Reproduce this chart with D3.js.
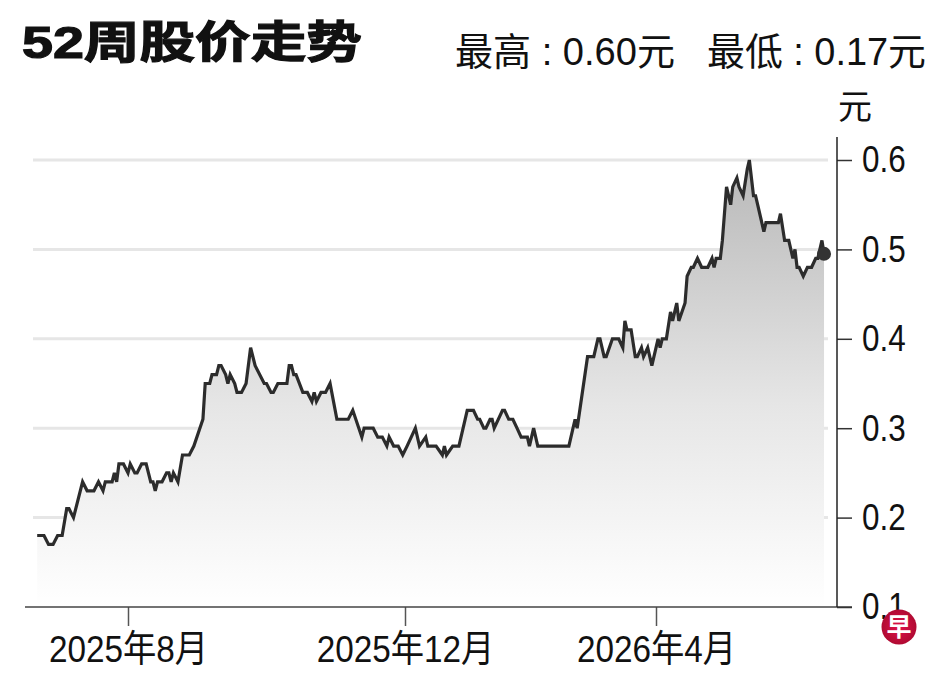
<!DOCTYPE html>
<html lang="zh">
<head>
<meta charset="UTF-8">
<title>52周股价走势</title>
<script src="https://d3js.org/d3.v7.min.js"></script>
<style>
    body { margin: 0; background: #fff; }
    text { font-family: "Liberation Sans", "Noto Sans CJK SC", sans-serif; fill: #111; }
</style>
</head>
<body>
<svg id="chart" width="948" height="676"></svg>
<script>
// price readings (date, closing price in 元)
const dates = [
    "2025-06-22", "2025-06-25", "2025-06-27", "2025-06-29", "2025-07-01", "2025-07-03", "2025-07-05", "2025-07-06",
    "2025-07-08", "2025-07-12", "2025-07-14", "2025-07-17", "2025-07-19", "2025-07-21", "2025-07-22", "2025-07-25",
    "2025-07-26", "2025-07-27", "2025-07-28", "2025-07-30", "2025-08-01", "2025-08-02", "2025-08-04", "2025-08-05",
    "2025-08-07", "2025-08-09", "2025-08-11", "2025-08-12", "2025-08-13", "2025-08-14", "2025-08-16", "2025-08-18",
    "2025-08-19", "2025-08-20", "2025-08-21", "2025-08-23", "2025-08-25", "2025-08-28", "2025-08-30", "2025-09-03",
    "2025-09-04", "2025-09-06", "2025-09-07", "2025-09-09", "2025-09-10", "2025-09-11", "2025-09-13", "2025-09-14",
    "2025-09-15", "2025-09-17", "2025-09-18", "2025-09-20", "2025-09-22", "2025-09-24", "2025-09-26", "2025-09-30",
    "2025-10-01", "2025-10-03", "2025-10-04", "2025-10-06", "2025-10-10", "2025-10-11", "2025-10-12", "2025-10-13",
    "2025-10-14", "2025-10-17", "2025-10-19", "2025-10-21", "2025-10-22", "2025-10-23", "2025-10-25", "2025-10-27",
    "2025-10-29", "2025-11-01", "2025-11-06", "2025-11-08", "2025-11-12", "2025-11-13", "2025-11-17", "2025-11-19",
    "2025-11-21", "2025-11-23", "2025-11-24", "2025-11-26", "2025-11-28", "2025-11-30", "2025-12-02", "2025-12-06",
    "2025-12-08", "2025-12-11", "2025-12-12", "2025-12-16", "2025-12-19", "2025-12-20", "2025-12-21", "2025-12-24",
    "2025-12-27", "2025-12-31", "2026-01-03", "2026-01-05", "2026-01-06", "2026-01-08", "2026-01-09", "2026-01-11",
    "2026-01-12", "2026-01-13", "2026-01-17", "2026-01-18", "2026-01-20", "2026-01-22", "2026-01-24", "2026-01-26",
    "2026-01-29", "2026-01-30", "2026-02-01", "2026-02-03", "2026-02-18", "2026-02-20", "2026-02-21", "2026-02-22",
    "2026-02-27", "2026-03-02", "2026-03-04", "2026-03-05", "2026-03-07", "2026-03-08", "2026-03-11", "2026-03-14",
    "2026-03-16", "2026-03-17", "2026-03-18", "2026-03-20", "2026-03-22", "2026-03-23", "2026-03-25", "2026-03-26",
    "2026-03-28", "2026-03-30", "2026-04-02", "2026-04-03", "2026-04-04", "2026-04-06", "2026-04-08", "2026-04-09",
    "2026-04-11", "2026-04-12", "2026-04-15", "2026-04-16", "2026-04-18", "2026-04-19", "2026-04-21", "2026-04-23",
    "2026-04-26", "2026-04-28", "2026-04-29", "2026-04-30", "2026-05-02", "2026-05-03", "2026-05-05", "2026-05-07",
    "2026-05-08", "2026-05-10", "2026-05-11", "2026-05-13", "2026-05-15", "2026-05-16", "2026-05-18", "2026-05-19",
    "2026-05-20", "2026-05-23", "2026-05-24", "2026-05-30", "2026-05-31", "2026-06-02", "2026-06-04", "2026-06-05",
    "2026-06-06", "2026-06-07", "2026-06-08", "2026-06-09", "2026-06-11", "2026-06-13", "2026-06-15", "2026-06-17",
    "2026-06-18", "2026-06-20", "2026-06-21"
];
const prices = [
    0.18, 0.18, 0.17, 0.17, 0.18, 0.18, 0.21, 0.21,
    0.20, 0.24, 0.23, 0.23, 0.24, 0.23, 0.24, 0.24,
    0.25, 0.24, 0.26, 0.26, 0.25, 0.26, 0.25, 0.25,
    0.26, 0.26, 0.24, 0.24, 0.23, 0.24, 0.24, 0.25,
    0.25, 0.24, 0.25, 0.24, 0.27, 0.27, 0.28, 0.31,
    0.35, 0.35, 0.36, 0.36, 0.37, 0.37, 0.36, 0.35,
    0.36, 0.35, 0.34, 0.34, 0.35, 0.39, 0.37, 0.35,
    0.35, 0.34, 0.34, 0.35, 0.35, 0.37, 0.37, 0.36,
    0.36, 0.34, 0.34, 0.33, 0.34, 0.33, 0.34, 0.34,
    0.35, 0.31, 0.31, 0.32, 0.29, 0.30, 0.30, 0.29,
    0.29, 0.28, 0.29, 0.28, 0.28, 0.27, 0.28, 0.30,
    0.28, 0.29, 0.28, 0.28, 0.27, 0.28, 0.27, 0.28,
    0.28, 0.32, 0.32, 0.31, 0.31, 0.30, 0.30, 0.31,
    0.31, 0.30, 0.32, 0.32, 0.31, 0.31, 0.30, 0.29,
    0.29, 0.28, 0.30, 0.28, 0.28, 0.30, 0.31, 0.30,
    0.38, 0.38, 0.40, 0.40, 0.38, 0.38, 0.40, 0.40,
    0.39, 0.42, 0.41, 0.41, 0.38, 0.38, 0.39, 0.38,
    0.39, 0.37, 0.40, 0.39, 0.40, 0.40, 0.43, 0.42,
    0.44, 0.42, 0.44, 0.47, 0.48, 0.48, 0.49, 0.48,
    0.48, 0.49, 0.48, 0.49, 0.49, 0.51, 0.57, 0.55,
    0.57, 0.58, 0.57, 0.56, 0.59, 0.60, 0.56, 0.56,
    0.55, 0.52, 0.53, 0.53, 0.54, 0.51, 0.51, 0.50,
    0.49, 0.50, 0.48, 0.48, 0.47, 0.48, 0.48, 0.49,
    0.49, 0.51, 0.495
];
const xTickDates = ["2025-08-01", "2025-12-01", "2026-04-01"];
const yTicks = [0.1, 0.2, 0.3, 0.4, 0.5, 0.6];

const parse = d3.timeParse("%Y-%m-%d");
const data = dates.map((d, i) => ({ date: parse(d), price: prices[i] }));

const svg = d3.select("#chart");
const axisX = 837;      // y axis position (right side)
const baseY = 607;      // x axis position

// month anchors are not evenly spaced on the original (trading days), so use a piecewise time scale
const x = d3.scaleTime()
    .domain(xTickDates.map(parse))
    .range([128, 405, 656]);

const y = d3.scaleLinear()
    .domain([0.1, 0.6])
    .range([baseY, 160]);

// condense / stretch text horizontally to mimic the original face
function fitWidth(sel, k) {
    sel.each(function () {
        const w = this.getComputedTextLength();
        d3.select(this).attr("textLength", w * k).attr("lengthAdjust", "spacingAndGlyphs");
    });
}

// title + high/low
svg.append("text")
    .attr("x", 22).attr("y", 58)
    .attr("font-size", 44).attr("font-weight", "bold")
    .attr("stroke", "#111").attr("stroke-width", 1.2)
    .attr("textLength", 340).attr("lengthAdjust", "spacingAndGlyphs")
    .text("52周股价走势");

const hi = d3.max(prices), lo = d3.min(prices);
function hiLo(xPos, label, val, len) {
    svg.append("text")
        .attr("x", xPos).attr("y", 65).attr("font-size", 38)
        .attr("textLength", len).attr("lengthAdjust", "spacingAndGlyphs")
        .text(label + " : " + val.toFixed(2) + "元");
}
hiLo(455, "最高", hi, 220);
hiLo(707, "最低", lo, 219);

// gradient for the area
const defs = svg.append("defs");
const grad = defs.append("linearGradient")
    .attr("id", "fade")
    .attr("gradientUnits", "userSpaceOnUse")
    .attr("x1", 0).attr("x2", 0)
    .attr("y1", y(0.6)).attr("y2", baseY);
grad.append("stop").attr("offset", 0).attr("stop-color", "#b8b8b8");
grad.append("stop").attr("offset", 0.55).attr("stop-color", "#e6e6e6");
grad.append("stop").attr("offset", 1).attr("stop-color", "#ffffff");

// gridlines
svg.append("g")
    .selectAll("line")
    .data(yTicks.filter(t => t > 0.1))
    .join("line")
    .attr("x1", 33).attr("x2", 828)
    .attr("y1", d => y(d)).attr("y2", d => y(d))
    .attr("stroke", "#e6e6e6")
    .attr("stroke-width", 3);

// area + line
svg.append("path")
    .datum(data)
    .attr("fill", "url(#fade)")
    .attr("d", d3.area()
        .x(d => x(d.date))
        .y0(baseY)
        .y1(d => y(d.price)));

svg.append("path")
    .datum(data)
    .attr("fill", "none")
    .attr("stroke", "#2c2c2c")
    .attr("stroke-width", 3.2)
    .attr("d", d3.line()
        .x(d => x(d.date))
        .y(d => y(d.price)));

const last = data[data.length - 1];
svg.append("circle")
    .attr("cx", x(last.date)).attr("cy", y(last.price))
    .attr("r", 7)
    .attr("fill", "#333");

// x axis
const gx = svg.append("g")
    .attr("transform", `translate(0,${baseY})`)
    .call(d3.axisBottom(x)
        .tickValues(xTickDates.map(parse))
        .tickSize(19)
        .tickPadding(10)
        .tickFormat(d => d.getFullYear() + "年" + (d.getMonth() + 1) + "月"));
gx.select(".domain").remove();
gx.selectAll(".tick line").attr("stroke", "#555").attr("stroke-width", 1.5);
gx.selectAll(".tick text")
    .attr("font-size", 37)
    .attr("font-family", null)
    .attr("fill", "#111")
    .call(fitWidth, 0.9);
svg.append("line")
    .attr("x1", 25).attr("x2", axisX + 15)
    .attr("y1", baseY).attr("y2", baseY)
    .attr("stroke", "#444").attr("stroke-width", 1.5);

// y axis
const gy = svg.append("g")
    .attr("transform", `translate(${axisX},0)`)
    .call(d3.axisRight(y)
        .tickValues(yTicks)
        .tickSize(15)
        .tickPadding(10)
        .tickFormat(d3.format(".1f")));
gy.select(".domain").remove();
gy.selectAll(".tick line").attr("stroke", "#333").attr("stroke-width", 1.5);
gy.selectAll(".tick text")
    .attr("font-size", 37)
    .attr("font-family", null)
    .attr("fill", "#111")
    .call(fitWidth, 0.85);
svg.append("line")
    .attr("x1", axisX).attr("x2", axisX)
    .attr("y1", 137).attr("y2", baseY)
    .attr("stroke", "#222").attr("stroke-width", 1.5);

svg.append("text")
    .attr("x", 838).attr("y", 119)
    .attr("font-size", 34)
    .text("元");

// logo
const logo = svg.append("g").attr("transform", "translate(899,627)");
const lg = defs.append("radialGradient").attr("id", "logoFill");
lg.append("stop").attr("offset", 0).attr("stop-color", "#e0134a");
lg.append("stop").attr("offset", 1).attr("stop-color", "#b00a32");
logo.append("circle").attr("r", 17.5).attr("fill", "url(#logoFill)");
logo.append("text")
    .attr("text-anchor", "middle")
    .attr("y", 9)
    .attr("font-size", 25)
    .attr("font-weight", "bold")
    .style("fill", "#fff")
    .text("早");
</script>
</body>
</html>
